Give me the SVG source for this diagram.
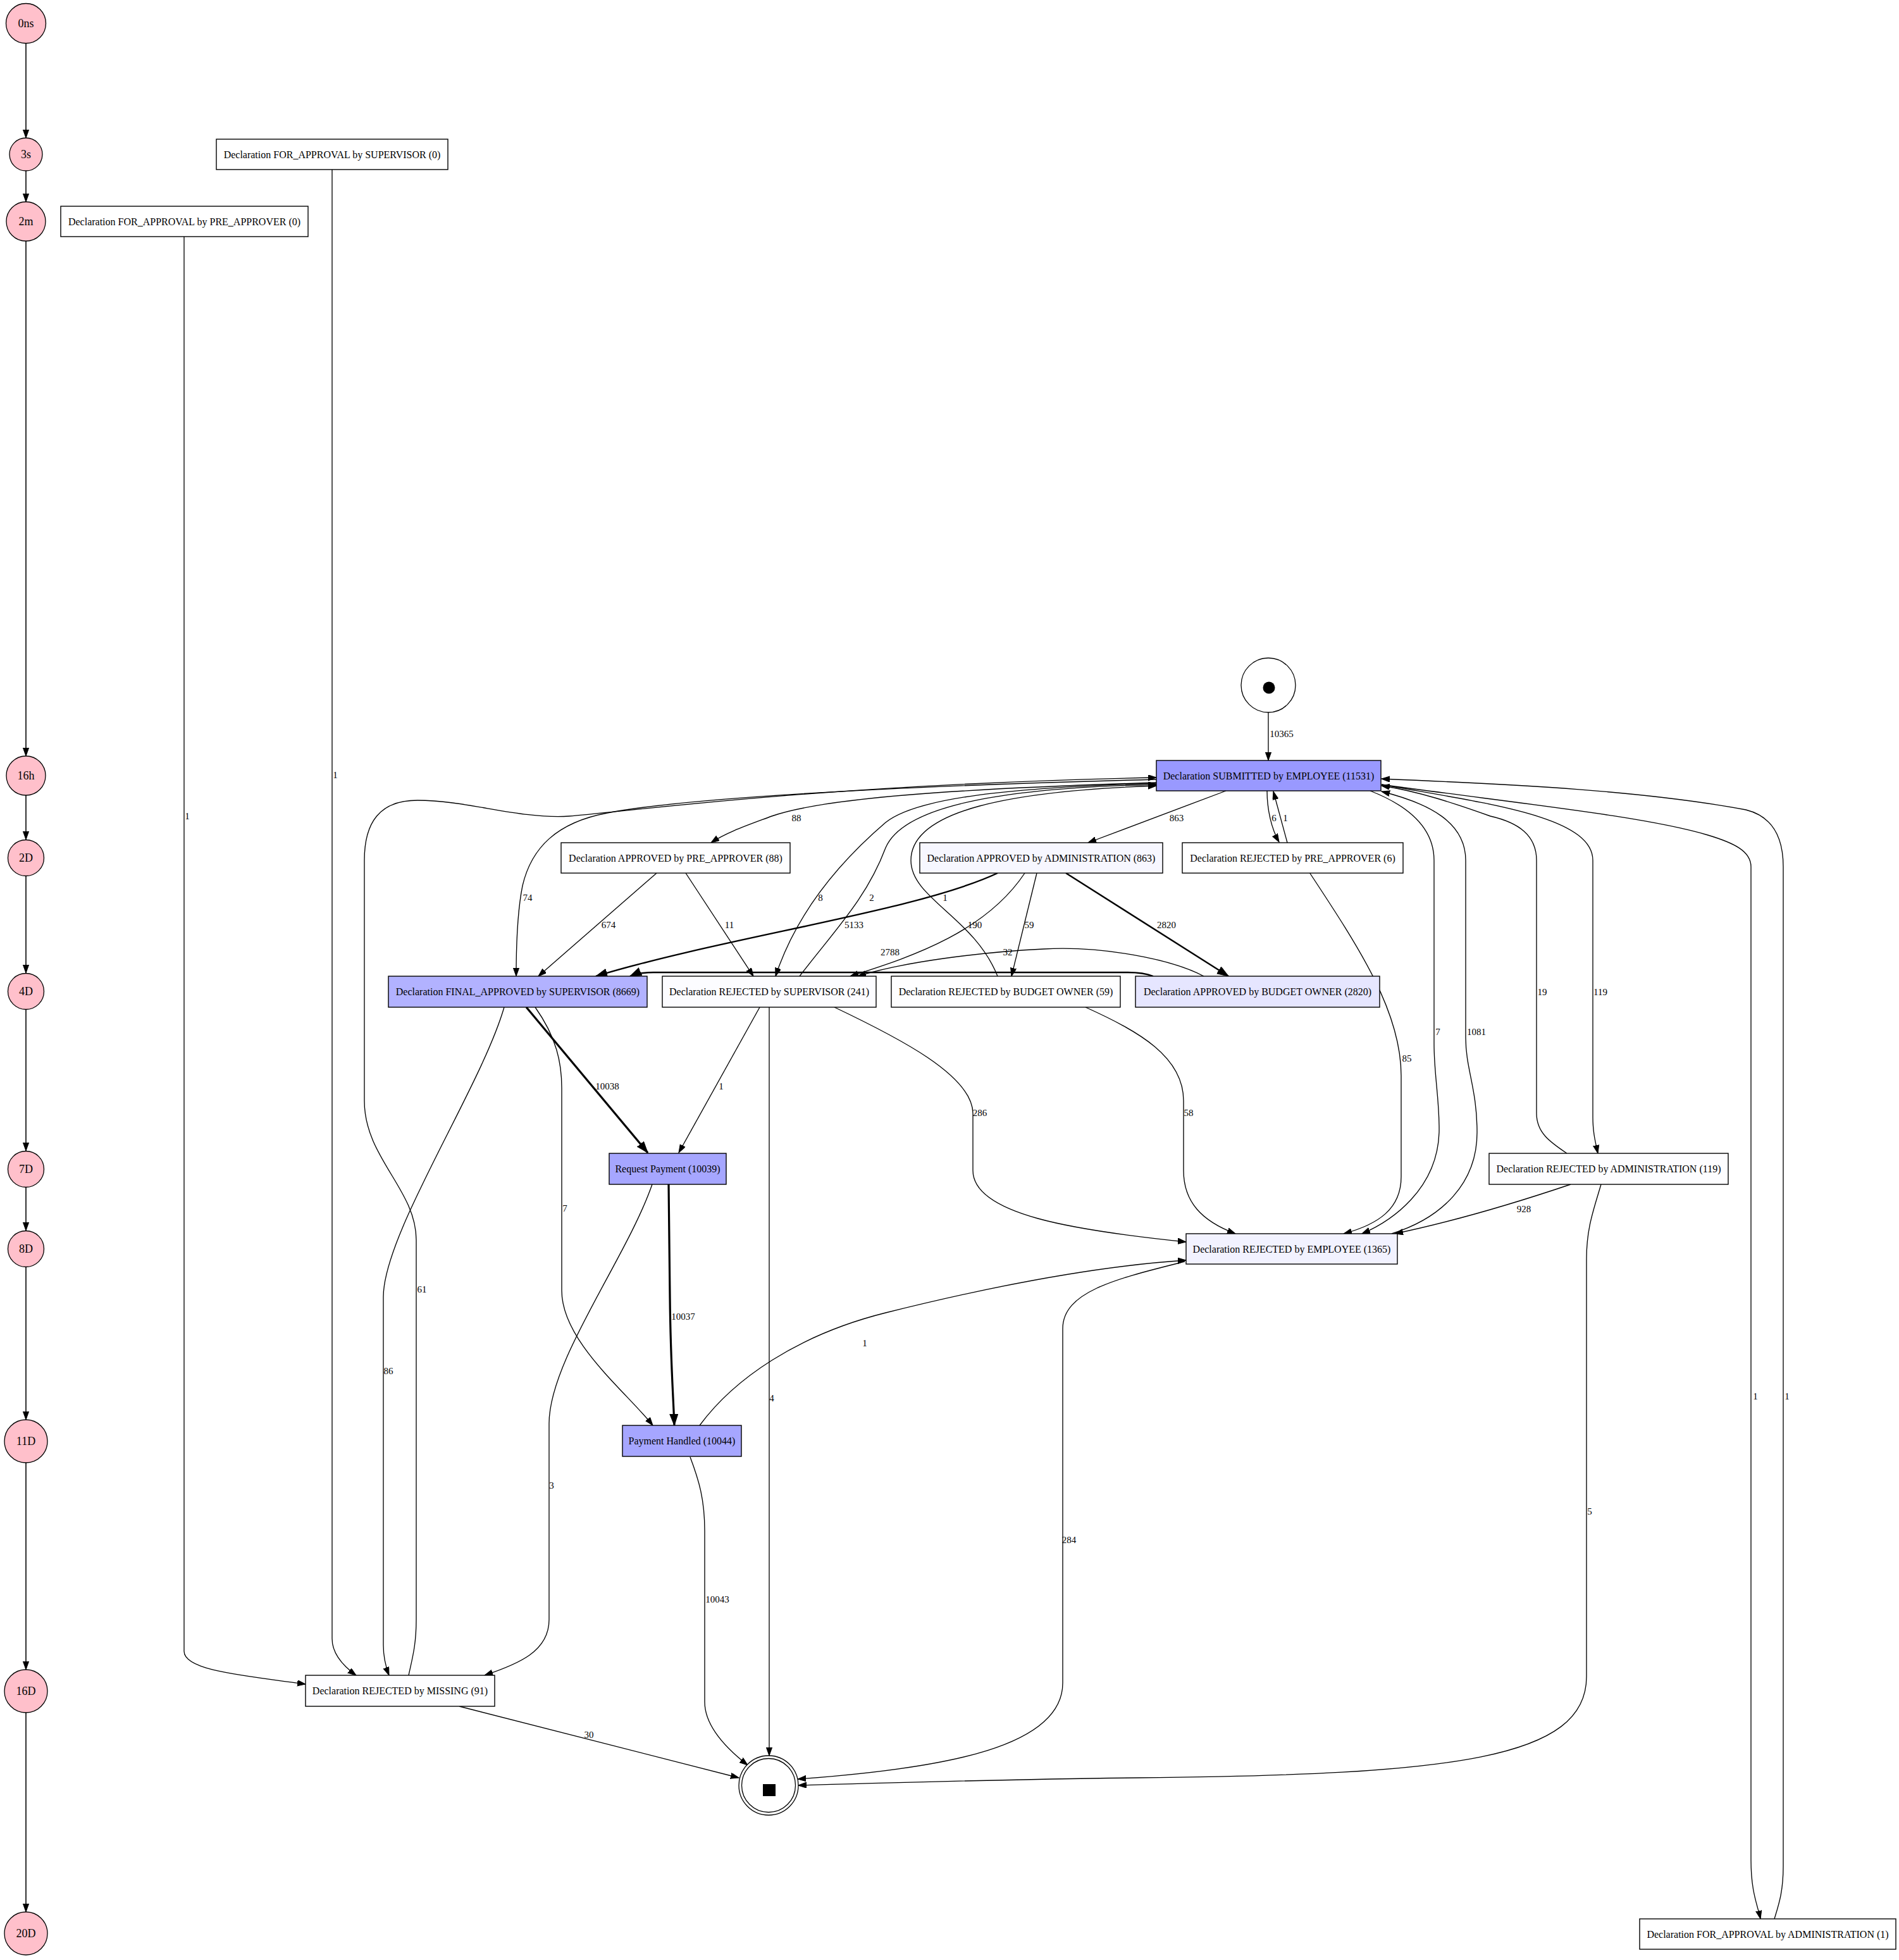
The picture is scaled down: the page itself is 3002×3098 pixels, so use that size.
<svg xmlns="http://www.w3.org/2000/svg" width="3002" height="3098" viewBox="0 0 3002 3098">
<style>
.bg{fill:#ffffff}
.box{stroke:#000;stroke-width:1.4}
.tl{fill:#FFC0CB;stroke:#000;stroke-width:1.3}
.nt{font-family:"Liberation Serif","Times New Roman",serif;font-size:16px;text-anchor:middle;fill:#000}
.tt{font-family:"Liberation Serif","Times New Roman",serif;font-size:18px;text-anchor:middle;fill:#000}
.el{font-family:"Liberation Serif","Times New Roman",serif;font-size:15px;text-anchor:middle;fill:#000}
.e{fill:none;stroke:#000;stroke-width:1.33;marker-end:url(#ah)}
.w1{stroke-width:2.4;marker-end:url(#ahb)}
.w2{stroke-width:3.2;marker-end:url(#ahb)}
.tle{fill:none;stroke:#000;stroke-width:1.6;marker-end:url(#ah)}
</style>
<defs>
<marker id="ah" markerWidth="14" markerHeight="10" refX="13" refY="4.6" orient="auto" markerUnits="userSpaceOnUse"><path d="M0,0 L13,4.6 L0,9.2 z" fill="#000" stroke="#000" stroke-width="1"/></marker>
<marker id="ahb" markerWidth="19" markerHeight="14" refX="18" refY="6.5" orient="auto" markerUnits="userSpaceOnUse"><path d="M0,0 L18,6.5 L0,13 z" fill="#000" stroke="#000" stroke-width="1"/></marker>
</defs>
<rect class="bg" x="0" y="0" width="3002" height="3098"/>

<g id="connectors">
<path class="tle" d="M41,69 L41,218"/>
<path class="tle" d="M41,270 L41,319"/>
<path class="tle" d="M41,381 L41,1195"/>
<path class="tle" d="M41,1257 L41,1327"/>
<path class="tle" d="M41,1385 L41,1538"/>
<path class="tle" d="M41,1596 L41,1819"/>
<path class="tle" d="M41,1877 L41,1945"/>
<path class="tle" d="M41,2003 L41,2244"/>
<path class="tle" d="M41,2312 L41,2639"/>
<path class="tle" d="M41,2707 L41,3022"/>

<path class="e" d="M2005,1126 L2005,1202"/>
<text class="el" x="2026" y="1165">10365</text>

<path class="e" d="M1828,1237 C1500,1247 1300,1262 1220,1290 C1180,1305 1150,1315 1124,1332"/>
<text class="el" x="1259" y="1298">88</text>

<path class="e" d="M1938,1250 L1720,1332"/>
<text class="el" x="1860" y="1298">863</text>

<path class="e" d="M2003,1250 C2003,1280 2010,1310 2022,1331"/>
<text class="el" x="2014" y="1298">6</text>
<path class="e" d="M2035,1332 L2013,1251"/>
<text class="el" x="2032" y="1298">1</text>

<path class="e" d="M1828,1232 C1500,1240 1100,1258 960,1285 C880,1300 840,1340 826,1400 C818,1440 816,1500 816,1543"/>
<text class="el" x="834" y="1424">74</text>

<path class="e" d="M1828,1238 C1600,1245 1450,1260 1400,1300 C1330,1360 1260,1440 1226,1543"/>
<text class="el" x="1297" y="1424">8</text>

<path class="e" d="M1264,1543 C1320,1470 1370,1420 1400,1340 C1430,1270 1600,1245 1828,1240"/>
<text class="el" x="1378" y="1424">2</text>

<path class="e" d="M1577,1543 C1540,1450 1440,1420 1440,1360 C1440,1280 1600,1250 1828,1242"/>
<text class="el" x="1494" y="1424">1</text>

<path class="e" d="M646,2648 C652,2620 658,2600 658,2560 L658,1960 C658,1880 576,1830 576,1740 L576,1360 C576,1300 600,1265 660,1265 C740,1265 820,1295 900,1290 C1000,1282 1300,1240 1828,1229"/>
<text class="el" x="667" y="2043">61</text>

<path class="e" d="M2166,1250 C2230,1275 2267,1310 2267,1360 L2267,1650 C2267,1700 2276,1740 2275,1790 C2272,1880 2200,1930 2153,1950"/>
<text class="el" x="2273" y="1636">7</text>

<path class="e" d="M2200,1950 C2280,1925 2335,1870 2335,1790 C2335,1720 2317,1690 2317,1640 L2317,1360 C2317,1300 2260,1270 2184,1251"/>
<text class="el" x="2334" y="1636">1081</text>

<path class="e" d="M2184,1240 C2350,1270 2518,1290 2518,1360 L2518,1766 C2518,1790 2522,1805 2526,1823"/>
<text class="el" x="2530" y="1573">119</text>

<path class="e" d="M2477,1823 C2450,1805 2429,1790 2429,1760 L2429,1360 C2429,1320 2400,1300 2356,1290 C2300,1270 2240,1250 2184,1242"/>
<text class="el" x="2438" y="1573">19</text>

<path class="e" d="M2184,1240 C2400,1270 2600,1290 2700,1320 C2740,1332 2768,1345 2768,1370 L2768,2940 C2768,2990 2778,3010 2783,3033"/>
<text class="el" x="2775" y="2212">1</text>

<path class="e" d="M2805,3033 C2812,3010 2819,2990 2819,2950 L2819,1370 C2819,1320 2800,1290 2760,1280 C2600,1250 2400,1240 2184,1231"/>
<text class="el" x="2825" y="2212">1</text>

<path class="e" d="M1038,1380 L851,1543"/>
<text class="el" x="962" y="1467">674</text>

<path class="e" d="M1084,1380 L1191,1543"/>
<text class="el" x="1153" y="1467">11</text>

<path class="e w1" d="M1577,1380 C1450,1440 1150,1480 942,1543"/>
<text class="el" x="1350" y="1467">5133</text>

<path class="e" d="M1620,1380 C1560,1470 1450,1510 1344,1543"/>
<text class="el" x="1541" y="1467">190</text>

<path class="e" d="M1639,1380 L1599,1543"/>
<text class="el" x="1627" y="1467">59</text>

<path class="e w1" d="M1685,1380 L1942,1543"/>
<text class="el" x="1844" y="1467">2820</text>

<path class="e w1" d="M1823,1543 C1810,1538 1795,1537 1783,1537 L1033,1537 C1015,1537 1005,1539 996,1543"/>
<text class="el" x="1407" y="1510">2788</text>

<path class="e" d="M1903,1543 C1850,1515 1740,1495 1650,1500 C1550,1505 1430,1520 1356,1543"/>
<text class="el" x="1593" y="1510">32</text>

<path class="e w2" d="M832,1592 L1024,1822"/>
<text class="el" x="960" y="1722">10038</text>

<path class="e" d="M846,1592 C880,1640 888,1680 888,1720 L888,2040 C888,2120 990,2200 1032,2253"/>
<text class="el" x="893" y="1915">7</text>

<path class="e" d="M797,1592 C760,1720 606,1950 606,2050 L606,2600 C606,2620 610,2635 615,2648"/>
<text class="el" x="614" y="2172">86</text>

<path class="e" d="M1201,1592 L1073,1822"/>
<text class="el" x="1140" y="1722">1</text>

<path class="e" d="M1216,1592 L1216,2775"/>
<text class="el" x="1220" y="2215">4</text>

<path class="e" d="M1319,1592 C1420,1640 1538,1700 1538,1760 L1538,1850 C1538,1920 1700,1945 1875,1963"/>
<text class="el" x="1549" y="1764">286</text>

<path class="e" d="M1716,1592 C1800,1630 1871,1670 1871,1740 L1871,1850 C1871,1900 1900,1930 1953,1950"/>
<text class="el" x="1879" y="1764">58</text>

<path class="e" d="M2070,1379 C2150,1500 2215,1600 2215,1700 L2215,1860 C2215,1910 2180,1935 2124,1950"/>
<text class="el" x="2224" y="1678">85</text>

<path class="e" d="M2483,1872 C2400,1900 2300,1930 2205,1950"/>
<text class="el" x="2409" y="1916">928</text>

<path class="e" d="M2531,1872 C2520,1910 2508,1940 2508,1990 L2508,2650 C2508,2780 2300,2805 1800,2810 C1600,2812 1400,2818 1262,2822"/>
<text class="el" x="2513" y="2394">5</text>

<path class="e w2" d="M1057,1872 L1059,2050 C1060,2150 1064,2200 1066,2253"/>
<text class="el" x="1080" y="2086">10037</text>

<path class="e" d="M1031,1872 C990,1990 868,2150 868,2250 L868,2560 C868,2610 820,2630 766,2648"/>
<text class="el" x="872" y="2353">3</text>

<path class="e" d="M1106,2253 C1160,2180 1260,2110 1400,2075 C1600,2025 1750,2000 1875,1992"/>
<text class="el" x="1367" y="2128">1</text>

<path class="e" d="M1091,2303 C1105,2340 1114,2370 1114,2420 L1114,2690 C1114,2730 1150,2765 1182,2790"/>
<text class="el" x="1134" y="2533">10043</text>

<path class="e" d="M1873,1994 C1770,2020 1680,2040 1680,2100 L1680,2660 C1680,2760 1500,2795 1261,2812"/>
<text class="el" x="1690" y="2439">284</text>

<path class="e" d="M726,2697 L1168,2810"/>
<text class="el" x="931" y="2747">30</text>

<path class="e" d="M525,268 L525,2590 C525,2615 545,2635 563,2648"/>
<text class="el" x="530" y="1230">1</text>

<path class="e" d="M291,374 L291,2610 C291,2640 380,2648 483,2662"/>
<text class="el" x="296" y="1295">1</text>
</g>

<g id="t0ns"><circle class="tl" cx="41" cy="37" r="31.5"/><text class="tt" x="41" y="43">0ns</text></g>
<g id="t3s"><circle class="tl" cx="41" cy="244" r="26"/><text class="tt" x="41" y="250">3s</text></g>
<g id="t2m"><circle class="tl" cx="41" cy="350" r="31"/><text class="tt" x="41" y="356">2m</text></g>
<g id="t16h"><circle class="tl" cx="41" cy="1226" r="31"/><text class="tt" x="41" y="1232">16h</text></g>
<g id="t2D"><circle class="tl" cx="41" cy="1356" r="28.5"/><text class="tt" x="41" y="1362">2D</text></g>
<g id="t4D"><circle class="tl" cx="41" cy="1567" r="28.5"/><text class="tt" x="41" y="1573">4D</text></g>
<g id="t7D"><circle class="tl" cx="41" cy="1848" r="28.5"/><text class="tt" x="41" y="1854">7D</text></g>
<g id="t8D"><circle class="tl" cx="41" cy="1974" r="28.5"/><text class="tt" x="41" y="1980">8D</text></g>
<g id="t11D"><circle class="tl" cx="41" cy="2278" r="34"/><text class="tt" x="41" y="2284">11D</text></g>
<g id="t16D"><circle class="tl" cx="41" cy="2673" r="34"/><text class="tt" x="41" y="2679">16D</text></g>
<g id="t20D"><circle class="tl" cx="41" cy="3056" r="34"/><text class="tt" x="41" y="3062">20D</text></g>

<g id="start"><circle cx="2005" cy="1083" r="43" fill="#fff" stroke="#000" stroke-width="1.3"/><circle cx="2006" cy="1087" r="9.5" fill="#000"/></g>
<g id="end"><circle cx="1215" cy="2822" r="47" fill="#fff" stroke="#000" stroke-width="1.3"/><circle cx="1215" cy="2822" r="42.5" fill="none" stroke="#000" stroke-width="1.3"/><rect x="1206" y="2820" width="20" height="19" fill="#000"/></g>

<g id="n_for_sup"><rect class="box" x="342" y="220" width="366" height="48" fill="#FFFFFF"/><text class="nt" x="525" y="249.5">Declaration FOR_APPROVAL by SUPERVISOR (0)</text></g>
<g id="n_for_pre"><rect class="box" x="96" y="326" width="391" height="48" fill="#FFFFFF"/><text class="nt" x="291.5" y="355.5">Declaration FOR_APPROVAL by PRE_APPROVER (0)</text></g>
<g id="n_submitted"><rect class="box" x="1828" y="1202" width="355" height="48" fill="#9999FF"/><text class="nt" x="2005.5" y="1231.5">Declaration SUBMITTED by EMPLOYEE (11531)</text></g>
<g id="n_appr_pre"><rect class="box" x="887" y="1332" width="362" height="48" fill="#FEFEFF"/><text class="nt" x="1068" y="1361.5">Declaration APPROVED by PRE_APPROVER (88)</text></g>
<g id="n_appr_admin"><rect class="box" x="1454" y="1332" width="384" height="48" fill="#F7F7FF"/><text class="nt" x="1646" y="1361.5">Declaration APPROVED by ADMINISTRATION (863)</text></g>
<g id="n_rej_pre"><rect class="box" x="1869" y="1332" width="349" height="48" fill="#FFFFFF"/><text class="nt" x="2043.5" y="1361.5">Declaration REJECTED by PRE_APPROVER (6)</text></g>
<g id="n_final"><rect class="box" x="614" y="1543" width="409" height="49" fill="#B2B2FF"/><text class="nt" x="818.5" y="1573">Declaration FINAL_APPROVED by SUPERVISOR (8669)</text></g>
<g id="n_rej_sup"><rect class="box" x="1047" y="1543" width="338" height="49" fill="#FCFCFF"/><text class="nt" x="1216" y="1573">Declaration REJECTED by SUPERVISOR (241)</text></g>
<g id="n_rej_budget"><rect class="box" x="1409" y="1543" width="362" height="49" fill="#FEFEFF"/><text class="nt" x="1590" y="1573">Declaration REJECTED by BUDGET OWNER (59)</text></g>
<g id="n_appr_budget"><rect class="box" x="1795" y="1543" width="386" height="49" fill="#E6E6FF"/><text class="nt" x="1988" y="1573">Declaration APPROVED by BUDGET OWNER (2820)</text></g>
<g id="n_req_pay"><rect class="box" x="963" y="1823" width="185" height="49" fill="#A6A6FF"/><text class="nt" x="1055.5" y="1853">Request Payment (10039)</text></g>
<g id="n_rej_admin"><rect class="box" x="2354" y="1823" width="378" height="49" fill="#FDFDFF"/><text class="nt" x="2543" y="1853">Declaration REJECTED by ADMINISTRATION (119)</text></g>
<g id="n_rej_emp"><rect class="box" x="1875" y="1950" width="334" height="48" fill="#F2F2FF"/><text class="nt" x="2042" y="1979.5">Declaration REJECTED by EMPLOYEE (1365)</text></g>
<g id="n_pay_handled"><rect class="box" x="984" y="2253" width="188" height="49" fill="#A6A6FF"/><text class="nt" x="1078" y="2283">Payment Handled (10044)</text></g>
<g id="n_missing"><rect class="box" x="483" y="2648" width="299" height="49" fill="#FDFDFF"/><text class="nt" x="632.5" y="2678">Declaration REJECTED by MISSING (91)</text></g>
<g id="n_for_admin"><rect class="box" x="2592" y="3033" width="405" height="48" fill="#FFFFFF"/><text class="nt" x="2794.5" y="3062.5">Declaration FOR_APPROVAL by ADMINISTRATION (1)</text></g>
</svg>
